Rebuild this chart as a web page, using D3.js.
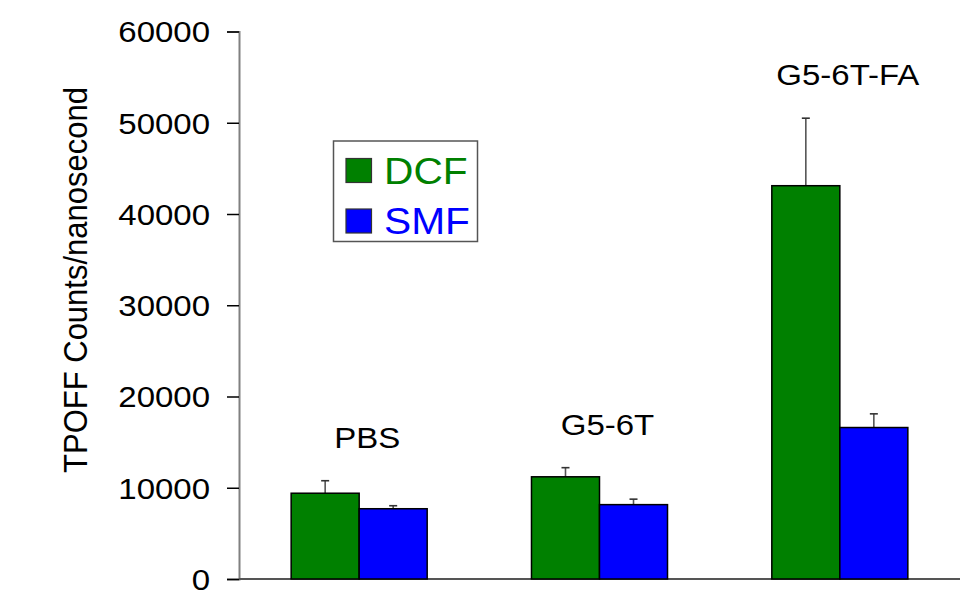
<!DOCTYPE html>
<html>
<head>
<meta charset="utf-8">
<script src="https://cdn.jsdelivr.net/npm/d3@7"></script>
<style>
  html, body { margin: 0; padding: 0; background: #ffffff; }
  svg { display: block; }
  text { font-family: Arial, "Liberation Sans", Helvetica, sans-serif; }
</style>
</head>
<body>
<svg id="chart" width="975" height="591"></svg>
<script>
// Treatment groups and the two fiber measurements
const groups = ["PBS", "G5-6T", "G5-6T-FA"];
const seriesNames = ["DCF", "SMF"];
const seriesColors = ["#008000", "#0000ff"];

// Mean TPOFF counts per nanosecond and their error (upper bar only)
const dcfValues = [9400, 11200, 43100];
const dcfErrors = [1370, 1000, 7400];
const smfValues = [7700, 8150, 16600];
const smfErrors = [330, 600, 1500];

const yTicks = [0, 10000, 20000, 30000, 40000, 50000, 60000];
const yLabel = "TPOFF Counts/nanosecond";

const svg = d3.select("#chart");
const plotLeft = 239, plotRight = 960, plotTop = 31.5, plotBottom = 579;
const stretch = 1.1;

const x0 = d3.scaleBand().domain(groups).range([plotLeft, plotRight])
  .paddingInner(0.434).paddingOuter(0.217);
const x1 = d3.scaleBand().domain(seriesNames).range([0, x0.bandwidth()]);
const y = d3.scaleLinear().domain([0, 60000]).range([plotBottom, plotTop]);

const rows = groups.map((g, i) => ({
  group: g,
  bars: [
    { s: "DCF", v: dcfValues[i], e: dcfErrors[i], c: seriesColors[0] },
    { s: "SMF", v: smfValues[i], e: smfErrors[i], c: seriesColors[1] }
  ]
}));

// Y axis
const yAxis = d3.axisLeft(y).tickValues(yTicks).tickSize(12).tickPadding(17)
  .tickFormat(d3.format("d"));
const ya = svg.append("g").attr("transform", `translate(${plotLeft},0)`).call(yAxis);
ya.select(".domain").attr("stroke", "#808080").attr("stroke-width", 2);
ya.selectAll(".tick line").attr("stroke", "#000").attr("stroke-width", 1.5);
ya.selectAll(".tick text")
  .attr("fill", "#000").attr("font-size", 30)
  .attr("font-family", "Arial, 'Liberation Sans', sans-serif")
  .attr("x", null).attr("dy", null)
  .attr("dominant-baseline", "central")
  .attr("transform", `translate(-29,0) scale(${stretch},1)`);

// Baseline
svg.append("line")
  .attr("x1", plotLeft).attr("x2", plotRight)
  .attr("y1", y(0)).attr("y2", y(0))
  .attr("stroke", "#555").attr("stroke-width", 2);

// Bars
const gGroups = svg.selectAll("g.grp").data(rows).join("g")
  .attr("class", "grp")
  .attr("transform", d => `translate(${x0(d.group)},0)`);

// Error bars (drawn first so the bar outline sits on top)
gGroups.selectAll("g.err").data(d => d.bars).join("g").attr("class", "err")
  .each(function(d) {
    const cx = x1(d.s) + x1.bandwidth() / 2;
    const g = d3.select(this);
    g.append("line").attr("x1", cx).attr("x2", cx)
      .attr("y1", y(d.v)).attr("y2", y(d.v + d.e))
      .attr("stroke", "#555").attr("stroke-width", 1.6);
    g.append("line").attr("x1", cx - 4).attr("x2", cx + 4)
      .attr("y1", y(d.v + d.e)).attr("y2", y(d.v + d.e))
      .attr("stroke", "#333").attr("stroke-width", 1.6);
  });

gGroups.selectAll("rect").data(d => d.bars).join("rect")
  .attr("x", d => x1(d.s))
  .attr("width", x1.bandwidth())
  .attr("y", d => y(d.v))
  .attr("height", d => y(0) - y(d.v))
  .attr("fill", d => d.c)
  .attr("stroke", "#000").attr("stroke-width", 1.5);

// Group labels above each pair
rows.forEach(r => {
  const topVal = d3.max(r.bars, b => b.v + b.e);
  const cx = x0(r.group) + x0.bandwidth() / 2 + 8;
  svg.append("text")
    .attr("transform", `translate(${cx},${y(topVal) - 33}) scale(${stretch},1)`)
    .attr("text-anchor", "middle")
    .attr("font-size", 30).attr("fill", "#000")
    .text(r.group);
});

// Y axis title
svg.append("text")
  .attr("transform", `translate(87,280) rotate(-90) scale(1,${stretch})`)
  .attr("text-anchor", "middle")
  .attr("font-size", 31).attr("fill", "#000")
  .text(yLabel);

// Legend
const lg = svg.append("g");
lg.append("rect").attr("x", 333.5).attr("y", 141).attr("width", 144).attr("height", 100.5)
  .attr("fill", "#fff").attr("stroke", "#555").attr("stroke-width", 1.5);
seriesNames.forEach((s, i) => {
  const yy = 158.5 + i * 50.5;
  lg.append("rect").attr("x", 346).attr("y", yy).attr("width", 25.5).attr("height", 24)
    .attr("fill", seriesColors[i]).attr("stroke", "#333").attr("stroke-width", 1.2);
  lg.append("text")
    .attr("transform", `translate(384,${yy + 25}) scale(${stretch},1)`)
    .attr("font-size", 37).attr("fill", seriesColors[i])
    .text(s);
});
</script>
</body>
</html>
